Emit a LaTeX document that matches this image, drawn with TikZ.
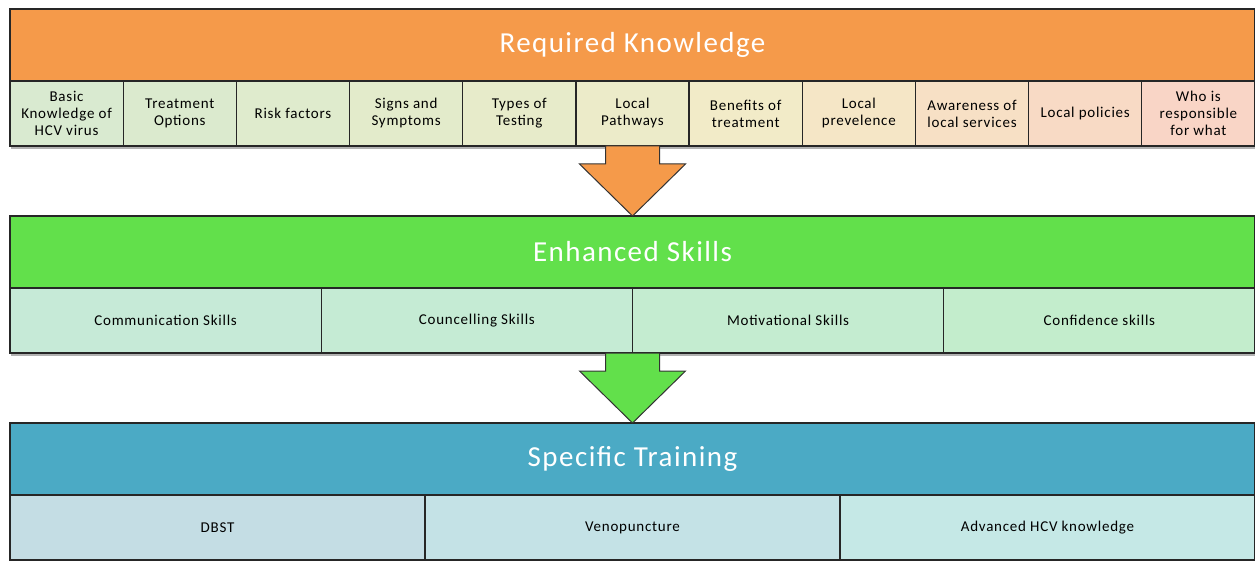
\documentclass[tikz,border=0pt]{standalone}
\usepackage{fontspec}
\setmainfont{Carlito}[LetterSpace=5]
\usetikzlibrary{positioning,calc,backgrounds}

\definecolor{orhead}{HTML}{F59A4A}
\definecolor{grhead}{HTML}{62E04B}
\definecolor{blhead}{HTML}{4BAAC5}
\definecolor{k1}{HTML}{D9EAD0}
\definecolor{k2}{HTML}{DBEACE}
\definecolor{k3}{HTML}{DFEBCD}
\definecolor{k4}{HTML}{E3EBCB}
\definecolor{k5}{HTML}{E7EBCA}
\definecolor{k6}{HTML}{ECEBC9}
\definecolor{k7}{HTML}{F2EBC8}
\definecolor{k8}{HTML}{F5E6C6}
\definecolor{k9}{HTML}{F7E0C5}
\definecolor{k10}{HTML}{F8DAC5}
\definecolor{k11}{HTML}{F9D5C6}
\definecolor{s1}{HTML}{C6EAD7}
\definecolor{s2}{HTML}{C5EBD4}
\definecolor{s3}{HTML}{C4ECD0}
\definecolor{s4}{HTML}{C3EDCC}
\definecolor{t1}{HTML}{C4DDE4}
\definecolor{t2}{HTML}{C4E2E6}
\definecolor{t3}{HTML}{C5E8E6}

\begin{document}
\begin{tikzpicture}[x=1pt, y=-1pt,
    head/.style = {draw=black!85, line width=1.3pt, text=white, minimum width=1245pt, minimum height=72pt, inner sep=0pt, outer sep=0pt, font=\fontsize{29}{33}\selectfont},
    kbox/.style = {draw=black!85, line width=1.3pt, minimum width=113.18pt, minimum height=65pt, inner sep=0pt, outer sep=0pt, align=center, font=\fontsize{15}{17}\selectfont},
    sbox/.style = {kbox, minimum width=311.25pt},
    tbox/.style = {kbox, minimum width=415pt},
    bigarrow/.style = {draw=black!80, line width=1pt}]
    \useasboundingbox (0,0) rectangle (1255,561);

    % required knowledge
    \node[head, fill=orhead, anchor=north west] (know) at (10,9) {Required Knowledge};
    \node[kbox, fill=k1, anchor=north west] (basic) at (know.south west) {Basic\\Knowledge of\\HCV virus};
    \node[kbox, fill=k2] (treat) [right=0pt of basic] {Treatment\\Options};
    \node[kbox, fill=k3] (risk) [right=0pt of treat] {Risk factors};
    \node[kbox, fill=k4] (signs) [right=0pt of risk] {Signs and\\Symptoms};
    \node[kbox, fill=k5] (types) [right=0pt of signs] {Types of\\Testing};
    \node[kbox, fill=k6] (path) [right=0pt of types] {Local\\Pathways};
    \node[kbox, fill=k7] (benef) [right=0pt of path] {Benefits of\\treatment};
    \node[kbox, fill=k8] (prev) [right=0pt of benef] {Local\\prevelence};
    \node[kbox, fill=k9] (aware) [right=0pt of prev] {Awareness of\\local services};
    \node[kbox, fill=k10] (policy) [right=0pt of aware] {Local policies};
    \node[kbox, fill=k11] (who) [right=0pt of policy] {Who is\\responsible\\for what};

    % enhanced skills
    \node[head, fill=grhead] (skill) [below=135pt of know] {Enhanced Skills};
    \node[sbox, fill=s1, anchor=north west] (comm) at (skill.south west) {Communication Skills};
    \node[sbox, fill=s2] (couns) [right=0pt of comm] {Councelling Skills};
    \node[sbox, fill=s3] (motiv) [right=0pt of couns] {Motivational Skills};
    \node[sbox, fill=s4] (conf) [right=0pt of motiv] {Confidence skills};

    % specific training
    \node[head, fill=blhead] (train) [below=135pt of skill] {Specific Training};
    \node[tbox, fill=t1, anchor=north west] (dbst) at (train.south west) {DBST};
    \node[tbox, fill=t2] (veno) [right=0pt of dbst] {Venopuncture};
    \node[tbox, fill=t3] (adv) [right=0pt of veno] {Advanced HCV knowledge};

    \draw[bigarrow, fill=orhead] let \p1 = (path.south), \p2 = (skill.north) in
      (\x2-27pt,\y1) -- (\x2-27pt,\y2+52pt) -- (\x2-53pt,\y2+52pt) -- (\x2,\y2)
      -- (\x2+53pt,\y2+52pt) -- (\x2+27pt,\y2+52pt) -- (\x2+27pt,\y1) -- cycle;
    \draw[bigarrow, fill=grhead] let \p1 = (couns.south east), \p2 = (train.north) in
      (\x2-27pt,\y1) -- (\x2-27pt,\y2+52pt) -- (\x2-53pt,\y2+52pt) -- (\x2,\y2)
      -- (\x2+53pt,\y2+52pt) -- (\x2+27pt,\y2+52pt) -- (\x2+27pt,\y1) -- cycle;

    \begin{scope}[on background layer]
      \fill[black!30] ($(know.north west)+(1pt,-3pt)$) rectangle ($(who.south east)+(1pt,-3pt)$);
      \fill[black!30] ($(skill.north west)+(1pt,-3pt)$) rectangle ($(conf.south east)+(1pt,-3pt)$);
      \fill[black!30] ($(train.north west)+(1pt,-3pt)$) rectangle ($(adv.south east)+(1pt,-3pt)$);
    \end{scope}
\end{tikzpicture}
\end{document}
